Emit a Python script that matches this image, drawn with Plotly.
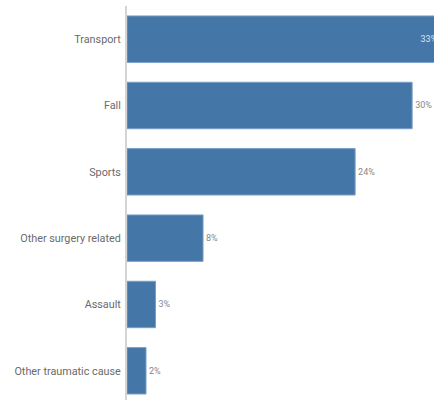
import plotly.graph_objects as go

categories = ["Transport", "Fall", "Sports", "Other surgery related", "Assault", "Other traumatic cause"]
values = [33, 30, 24, 8, 3, 2]
labels = ["33%", "30%", "24%", "8%", "3%", "2%"]
positions = ["inside", "outside", "outside", "outside", "outside", "outside"]

fig = go.Figure(go.Bar(
    x=values,
    y=categories,
    orientation="h",
    text=labels,
    textposition=positions,
    insidetextanchor="end",
    constraintext="none",
    cliponaxis=True,
    marker=dict(color="#4476a8", line=dict(color="#7a9fc6", width=1)),
    insidetextfont=dict(family="Roboto", size=9, color="#d7e2ee"),
    outsidetextfont=dict(family="Roboto", size=9, color="#888888"),
))

fig.update_layout(
    width=434, height=400,
    margin=dict(l=127, r=0, t=6, b=0),
    paper_bgcolor="white", plot_bgcolor="white",
    bargap=0.3,
    showlegend=False,
    font=dict(family="Roboto", color="#666666"),
)
fig.update_xaxes(range=[0, 32.3], visible=False, showgrid=False, zeroline=False)
fig.update_yaxes(
    type="category",
    range=[5.44, -0.5],
    showgrid=False, zeroline=False,
    showline=True, linecolor="#d4d4d4", linewidth=2,
    ticks="", ticklabelstandoff=2,
    tickfont=dict(family="Roboto", size=10.8, color="#6a6a6a"),
)

fig.write_html("out.html")
